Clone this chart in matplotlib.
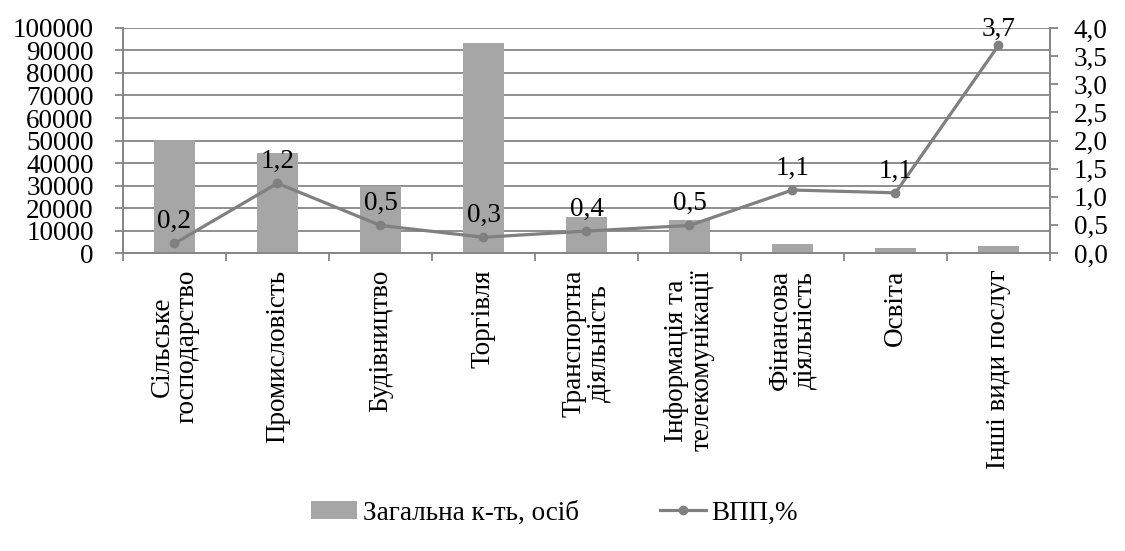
import matplotlib.pyplot as plt
from matplotlib import font_manager as fm
import numpy as np

FONT_PATH = "/usr/share/fonts/truetype/liberation/LiberationSerif-Regular.ttf"
fs = 19.5
fp = fm.FontProperties(fname=FONT_PATH, size=fs)
plt.rcParams['font.family'] = 'serif'
plt.rcParams['font.serif'] = ['Liberation Serif']

categories = ["Сільське\nгосподарство", "Промисловість", "Будівництво", "Торгівля",
              "Транспортна\nдіяльність", "Інформація та\nтелекомунікації",
              "Фінансова\nдіяльність", "Освіта", "Інші види послуг"]
persons = [50200, 44300, 29800, 93200, 16000, 14500, 4000, 2200, 3200]
gdp = [0.17, 1.24, 0.49, 0.28, 0.39, 0.49, 1.12, 1.07, 3.69]

bar_color = "#a6a6a6"
line_color = "#808080"
axis_color = "#868686"

fig = plt.figure(figsize=(11.25, 5.51), dpi=100)
ax = fig.add_axes([0.1093, 0.5408, 0.8240, 0.4084])
ax2 = ax.twinx()

x = np.arange(len(categories))
ax.bar(x, persons, width=0.4, color=bar_color, zorder=2, label="Загальна к-ть, осіб")
ax.set_xlim(-0.5, len(categories) - 0.5)
ax.set_ylim(0, 100000)
ax.set_yticks(np.arange(0, 100001, 10000))
ax.yaxis.grid(True, color=axis_color, linewidth=1.3, zorder=0)
ax.set_axisbelow(True)

ax2.plot(x, gdp, color=line_color, linewidth=2.3, marker="o", markersize=6,
         label="ВПП,%", zorder=3)
ax2.set_ylim(0, 4)
ax2.set_yticks(np.arange(0, 4.01, 0.5))
ax2.set_yticklabels([f"{v:.1f}".replace(".", ",") for v in np.arange(0, 4.01, 0.5)])

# value labels above the line points
for i, v in enumerate(gdp):
    off = 11 if v < 3.5 else 7
    ax2.annotate(f"{v:.1f}".replace(".", ","), (x[i], v), xytext=(0, off),
                 textcoords="offset points", ha="center", va="baseline",
                 fontproperties=fp, clip_on=False)

# category ticks between groups, labels at centers
ax.set_xticks(np.arange(-0.5, len(categories), 1.0))
ax.set_xticklabels([])
ax.set_xticks(x, minor=True)
ax.set_xticklabels(categories, minor=True, rotation=90,
                   va="top", ha="center", multialignment="center")
ax.tick_params(axis="x", which="minor", length=0, pad=12)
ax.tick_params(axis="x", which="major", length=6, color=axis_color, width=1.3)
ax.tick_params(axis="y", length=6, color=axis_color, width=1.3, pad=15)
ax2.tick_params(axis="y", length=6, color=axis_color, width=1.3, pad=11)

for a in (ax, ax2):
    for s in a.spines.values():
        s.set_color(axis_color)
        s.set_linewidth(1.3)
    a.spines["top"].set_visible(False)

for lbl in (ax.get_yticklabels() + ax2.get_yticklabels()
            + ax.get_xticklabels(minor=True)):
    lbl.set_fontproperties(fp)
for lbl in ax.get_xticklabels(minor=True):
    lbl.set_linespacing(1.0)

h1, l1 = ax.get_legend_handles_labels()
h2, l2 = ax2.get_legend_handles_labels()
fig.legend(h1 + h2, l1 + l2, loc="center", bbox_to_anchor=(0.493, 0.069), ncol=2,
           frameon=False, handlelength=1.7, handletextpad=0.2,
           columnspacing=3.0, prop=fp)

fig.savefig("out.png", dpi=100)
